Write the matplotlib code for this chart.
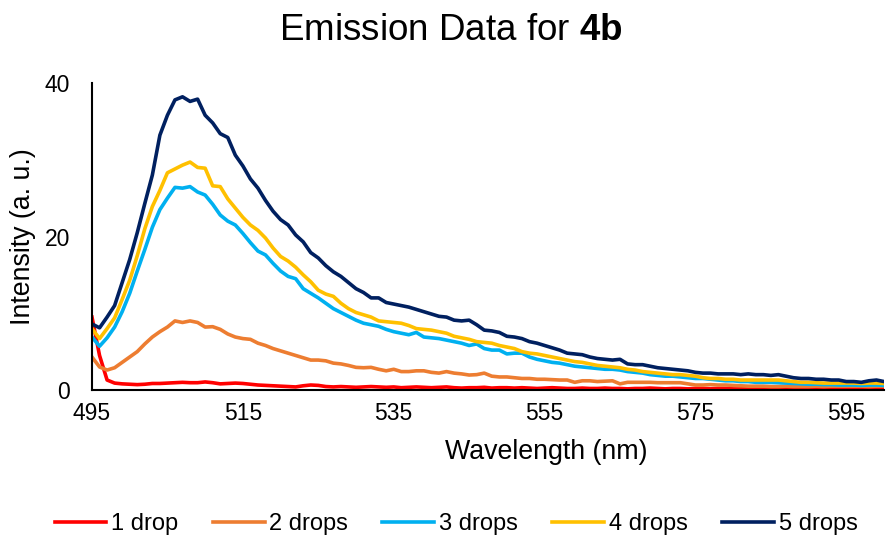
import matplotlib
matplotlib.use("Agg")
import matplotlib.pyplot as plt
import numpy as np

plt.rcParams['font.family'] = ['Liberation Sans', 'DejaVu Sans']
plt.rcParams['mathtext.fontset'] = 'custom'
plt.rcParams['mathtext.rm'] = 'Liberation Sans'
plt.rcParams['mathtext.bf'] = 'Liberation Sans:bold'

# wavelength in nm, 1 nm steps
wavelength = np.arange(495, 601)

drop1 = [9.5, 4.5, 1.3, 0.9, 0.8, 0.75, 0.7, 0.75, 0.85, 0.85,
         0.9, 0.95, 1.0, 0.95, 0.95, 1.05, 0.95, 0.8, 0.85, 0.9,
         0.85, 0.75, 0.65, 0.6, 0.55, 0.5, 0.45, 0.4, 0.55, 0.65,
         0.6, 0.45, 0.4, 0.45, 0.4, 0.35, 0.4, 0.45, 0.4, 0.35,
         0.4, 0.3, 0.35, 0.4, 0.35, 0.3, 0.35, 0.4, 0.3, 0.25,
         0.3, 0.3, 0.35, 0.25, 0.3, 0.3, 0.25, 0.3, 0.25, 0.2,
         0.25, 0.3, 0.25, 0.2, 0.2, 0.25, 0.2, 0.2, 0.25, 0.2,
         0.2, 0.15, 0.2, 0.2, 0.25, 0.2, 0.15, 0.2, 0.2, 0.15,
         0.2, 0.2, 0.15, 0.2, 0.2, 0.15, 0.15, 0.2, 0.2, 0.15,
         0.2, 0.15, 0.15, 0.2, 0.15, 0.2, 0.15, 0.15, 0.2, 0.15,
         0.2, 0.15, 0.2, 0.2, 0.15, 0.2]

drop2 = [4.3, 3.0, 2.6, 2.9, 3.6, 4.3, 5.0, 6.0, 6.9, 7.6,
         8.2, 9.0, 8.8, 9.0, 8.8, 8.2, 8.25, 7.9, 7.3, 6.9,
         6.7, 6.6, 6.1, 5.8, 5.4, 5.1, 4.8, 4.5, 4.2, 3.9,
         3.9, 3.8, 3.5, 3.4, 3.2, 2.95, 2.9, 2.95, 2.7, 2.5,
         2.7, 2.4, 2.4, 2.5, 2.5, 2.3, 2.2, 2.4, 2.2, 2.1,
         1.95, 2.0, 2.2, 1.8, 1.7, 1.7, 1.6, 1.5, 1.5, 1.4,
         1.4, 1.35, 1.3, 1.3, 1.0, 1.2, 1.2, 1.1, 1.15, 1.2,
         0.8, 1.0, 1.0, 1.0, 1.0, 0.95, 0.95, 0.95, 0.95, 0.8,
         0.65, 0.65, 0.7, 0.65, 0.65, 0.6, 0.55, 0.5, 0.5, 0.5,
         0.45, 0.45, 0.5, 0.45, 0.45, 0.45, 0.5, 0.45, 0.5, 0.5,
         0.5, 0.5, 0.5, 0.45, 0.5, 0.5]

drop3 = [6.9, 5.7, 6.8, 8.2, 10.2, 12.6, 15.5, 18.3, 21.2, 23.5,
         25.0, 26.4, 26.3, 26.5, 25.8, 25.4, 24.2, 22.8, 22.0, 21.5,
         20.4, 19.2, 18.1, 17.6, 16.5, 15.5, 14.8, 14.5, 13.2, 12.6,
         12.0, 11.3, 10.6, 10.1, 9.6, 9.1, 8.7, 8.5, 8.3, 7.9,
         7.6, 7.4, 7.2, 7.5, 6.9, 6.8, 6.7, 6.5, 6.3, 6.1,
         5.8, 6.0, 5.4, 5.2, 5.2, 4.7, 4.8, 4.8, 4.3, 4.0,
         3.8, 3.6, 3.5, 3.3, 3.1, 3.0, 2.9, 2.8, 2.7, 2.7,
         2.6, 2.4, 2.3, 2.2, 2.0, 1.9, 1.8, 1.8, 1.7, 1.6,
         1.5, 1.5, 1.4, 1.3, 1.2, 1.2, 1.1, 1.1, 1.0, 1.0,
         1.0, 0.95, 0.9, 0.85, 0.8, 0.75, 0.75, 0.7, 0.7, 0.65,
         0.65, 0.65, 0.6, 0.65, 0.65, 0.6]

drop4 = [8.0, 6.7, 8.0, 9.4, 11.8, 14.3, 17.5, 21.0, 23.9, 26.0,
         28.3, 28.8, 29.3, 29.7, 29.0, 28.9, 26.6, 26.5, 24.9, 23.7,
         22.5, 21.5, 20.8, 19.8, 18.5, 17.4, 16.8, 16.0, 15.0, 14.1,
         13.0, 12.5, 12.2, 11.3, 10.6, 10.1, 9.8, 9.5, 9.0, 8.9,
         8.8, 8.7, 8.4, 8.0, 7.9, 7.8, 7.6, 7.4, 7.0, 6.8,
         6.6, 6.3, 6.2, 6.1, 5.8, 5.6, 5.4, 5.0, 4.8, 4.7,
         4.5, 4.3, 4.1, 3.9, 3.7, 3.6, 3.4, 3.2, 3.1, 3.0,
         2.9, 2.7, 2.6, 2.4, 2.3, 2.2, 2.1, 2.0, 2.0, 1.9,
         1.8, 1.6, 1.5, 1.5, 1.4, 1.4, 1.3, 1.3, 1.3, 1.3,
         1.3, 1.3, 1.2, 1.1, 1.0, 1.0, 0.95, 0.9, 0.9, 0.9,
         0.9, 0.9, 0.85, 0.9, 0.9, 0.85]

drop5 = [8.6, 8.1, 9.5, 11.0, 14.0, 17.0, 20.5, 24.3, 28.0, 33.2,
         35.8, 37.8, 38.2, 37.6, 37.9, 35.8, 34.8, 33.4, 32.9, 30.6,
         29.2, 27.5, 26.3, 24.7, 23.3, 22.2, 21.5, 20.2, 19.3, 17.9,
         17.2, 16.2, 15.4, 14.8, 14.0, 13.2, 12.7, 12.0, 12.0, 11.4,
         11.2, 11.0, 10.8, 10.5, 10.2, 9.9, 9.6, 9.5, 9.1, 9.0,
         9.1, 8.5, 7.8, 7.7, 7.5, 7.0, 6.9, 6.7, 6.3, 6.1,
         5.8, 5.5, 5.2, 4.8, 4.7, 4.6, 4.3, 4.1, 4.0, 3.9,
         4.0, 3.4, 3.3, 3.3, 3.1, 2.9, 2.8, 2.7, 2.6, 2.5,
         2.3, 2.2, 2.2, 2.1, 2.1, 2.1, 2.0, 2.1, 2.0, 2.0,
         1.9, 2.0, 1.8, 1.6, 1.5, 1.5, 1.4, 1.4, 1.3, 1.3,
         1.1, 1.1, 1.0, 1.2, 1.3, 1.1]

series = [drop1, drop2, drop3, drop4, drop5]
labels = ["1 drop", "2 drops", "3 drops", "4 drops", "5 drops"]
colors = ["#FF0000", "#ED7D31", "#00B0F0", "#FFC000", "#002060"]

fig = plt.figure(figsize=(8.86, 5.4), dpi=100)
ax = fig.add_axes([92/886, 1 - 390/540, (884 - 92)/886, (390 - 83)/540])

for vals, lab, col in zip(series, labels, colors):
    ax.plot(wavelength, vals, color=col, lw=2.6, label=lab, solid_joinstyle="round")

ax.set_xlim(495, 600)
ax.set_ylim(0, 40)
ax.set_xticks([495, 515, 535, 555, 575, 595])
ax.set_yticks([0, 20, 40])
ax.tick_params(axis="both", length=0, labelsize=16.5, colors="black")
ax.tick_params(axis="x", pad=9)
ax.tick_params(axis="y", pad=16)

for s in ["top", "right"]:
    ax.spines[s].set_visible(False)
for s in ["left", "bottom"]:
    ax.spines[s].set_linewidth(1.5)
    ax.spines[s].set_color("black")

ax.set_xlabel("Wavelength (nm)", fontsize=19.3, va="center")
ax.xaxis.set_label_coords((546 - 92)/792, (390 - 452)/307)
ax.set_ylabel("Intensity (a. u.)", fontsize=19.3, labelpad=6)

fig.text(451/886, 1 - 31/540, r"Emission Data for $\mathbf{4b}$",
         ha="center", va="center", fontsize=26.5)

fig.legend(loc="center", bbox_to_anchor=(456/886, 1 - 524/540), ncol=5,
           frameon=False, fontsize=17, handlelength=2.2, handletextpad=0.2,
           columnspacing=1.45)

fig.savefig("out.png", dpi=100)
